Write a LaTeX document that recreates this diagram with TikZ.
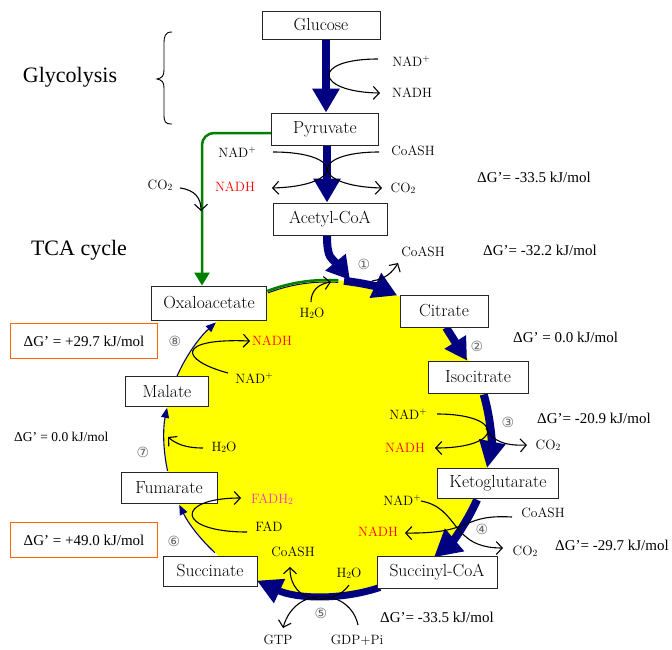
\documentclass[tikz,border=0pt]{standalone}
\usepackage{fontspec}
\usetikzlibrary{arrows.meta}
\newfontfamily\tnr{Liberation Serif}
\newfontfamily\dvs{DejaVu Sans}
\definecolor{navyb}{RGB}{0,0,128}
\definecolor{grn}{RGB}{0,128,0}
\definecolor{orng}{RGB}{255,102,0}
\definecolor{fadc}{RGB}{255,51,204}
\definecolor{nadred}{RGB}{255,0,0}
\definecolor{ylw}{RGB}{255,255,0}
\newcommand\lowsub[1]{\raisebox{-0.2ex}{\fontsize{9.5}{9.5}\selectfont #1}}
\newcommand\plussup{\raisebox{0.85ex}{\fontsize{9.5}{9.5}\selectfont +}}
\pgfdeclarelayer{bg}
\pgfsetlayers{bg,main}
\begin{document}
\begin{tikzpicture}[x=1pt,y=-1pt,
  box/.style={draw=black!85, line width=0.9pt, fill=white, inner sep=0pt, font=\fontsize{17.5}{19}\selectfont},
  lbl/.style={inner sep=0pt, font=\fontsize{13.5}{15}\selectfont},
  dg/.style={inner sep=0pt, font=\tnr\fontsize{15}{17}\selectfont},
  cnum/.style={inner sep=0pt, text=black!60, font=\dvs\fontsize{14}{14}\selectfont},
  rx/.style={line width=1.1pt, -{Straight Barb[length=6pt,width=13pt]}},
  bigarr/.style={draw=navyb, line width=8pt, -{Triangle[length=24pt,width=26pt]}},
  thinarr/.style={draw=navyb, line width=1.1pt, -{Triangle[length=10pt,width=8pt]}},
  orbox/.style={draw=orng, line width=1.8pt, fill=white, inner sep=0pt, minimum width=147pt, minimum height=35pt, font=\tnr\fontsize{15}{17}\selectfont},
  ttl/.style={inner sep=0pt, font=\tnr\fontsize{22}{24}\selectfont}
]
\useasboundingbox (0,0) rectangle (672,649);

% ---------- boxes ----------
\node[box, minimum width=118pt, minimum height=28pt] (glu) at (321,25) {Glucose};
\node[box, minimum width=107pt, minimum height=32pt] (pyr) at (325,129) {Pyruvate};
\node[box, minimum width=114pt, minimum height=32pt] (acc) at (330,219) {Acetyl-CoA};
\node[box, minimum width=115pt, minimum height=34pt] (oxa) at (209,303) {Oxaloacetate};
\node[box, minimum width=88pt, minimum height=32pt] (cit) at (444,311) {Citrate};
\node[box, minimum width=100pt, minimum height=32pt] (iso) at (478,377) {Isocitrate};
\node[box, minimum width=121pt, minimum height=30pt] (keto) at (498,483) {Ketoglutarate};
\node[box, minimum width=120pt, minimum height=32pt] (sca) at (437,572) {Succinyl-CoA};
\node[box, minimum width=94pt, minimum height=30pt] (suc) at (210,571) {Succinate};
\node[box, minimum width=96pt, minimum height=31pt] (fum) at (169,488) {Fumarate};
\node[box, minimum width=83pt, minimum height=30pt] (mal) at (167,391) {Malate};

% ---------- arc points on the cycle ----------
\coordinate (a1t) at (350,280);
\coordinate (a1bs) at ({327+163*cos(84)},{438-158*sin(84)});
\coordinate (a3s) at ({327+163*cos(16)},{438-158*sin(16)});
\coordinate (a4s) at ({327+163*cos(-23)},{438-158*sin(-23)});
\coordinate (a5s) at ({327+163*cos(-71)},{438-158*sin(-71)});
\coordinate (a6s) at ({327+163*cos(226.5)},{438-158*sin(226.5)});
\coordinate (a7s) at ({327+163*cos(192)},{438-158*sin(192)});
\coordinate (a8s) at ({327+163*cos(157)},{438-158*sin(157)});
\coordinate (gas) at ({327+163*cos(111.5)},{438-158*sin(111.5)});
\coordinate (gns) at ({327+161*cos(111.5)},{438-156*sin(111.5)});
\coordinate (gc) at (202,133);

\begin{pgfonlayer}{bg}
\fill[white] (0,0) rectangle (672,649);
\fill[ylw] (327,438) ellipse [x radius=163pt, y radius=158pt];
% thin left arcs
\draw[thinarr] (a6s) arc[start angle=226.5, end angle=205, x radius=163pt, y radius=158pt];
\draw[thinarr] (a7s) arc[start angle=192, end angle=169, x radius=163pt, y radius=158pt];
\draw[thinarr] (a8s) arc[start angle=157, end angle=133, x radius=163pt, y radius=158pt];
% green condensation arc
\draw[navyb, line width=1pt] (gns) arc[start angle=111.5, end angle=86, x radius=161pt, y radius=156pt];
\draw[grn, line width=2.5pt] (gas) arc[start angle=111.5, end angle=86, x radius=163pt, y radius=158pt];
% green pyruvate -> oxaloacetate
\draw[grn, line width=2.5pt, rounded corners=12pt, -{Triangle[length=13pt,width=15pt]}] (pyr.west |- gc) -- (gc) -- (gc |- oxa.north);
% thick arrows
\draw[bigarr] ([xshift=5pt]glu.south) -- ([xshift=1pt]pyr.north);
\draw[bigarr] ([xshift=2pt]pyr.south) -- ([xshift=-3pt]acc.north);
\draw[bigarr, -{Triangle[length=23pt,width=25pt]}] ([xshift=-3pt]acc.south) .. controls +(0,24) and +(-18,-22) .. (a1t);
\draw[bigarr] (a1bs) arc[start angle=84, end angle=64.5, x radius=163pt, y radius=158pt];
\draw[bigarr, -{Triangle[length=22pt,width=24pt]}] ([xshift=2pt]cit.south) -- ([xshift=-11pt]iso.north);
\draw[bigarr, -{Triangle[length=27pt,width=25pt]}] (a3s) arc[start angle=16, end angle=-11, x radius=163pt, y radius=158pt];
\draw[bigarr, -{Triangle[length=27pt,width=28pt]}] (a4s) arc[start angle=-23, end angle=-49, x radius=163pt, y radius=158pt];
\draw[bigarr, line width=7pt, -{Triangle[length=25pt,width=25pt]}] (a5s) arc[start angle=-71, end angle=-115.5, x radius=163pt, y radius=158pt];
\end{pgfonlayer}

% ---------- titles and brace ----------
\node[ttl] (tglyc) at (70,77) {Glycolysis};
\node[ttl] (ttca) at (79,250) {TCA cycle};
\draw[line width=0.9pt] (172,32) .. controls (165,32) and (164,36) .. (164,44) -- (164,70)
  .. controls (164,76) and (162,78) .. (157,79) .. controls (162,80) and (164,82) .. (164,88)
  -- (164,114) .. controls (164,122) and (165,124) .. (172,124);

% ---------- glycolysis side ----------
\node[lbl] (g1) at (411,61) {NAD\plussup};
\node[lbl] (g2) at (412,93) {NADH};
\draw[rx] (378,59) .. controls (310,59) and (315,92) .. (380,93);

% ---------- pyruvate dehydrogenase ----------
\node[lbl] (p1) at (237,152) {NAD\plussup};
\node[lbl, text=nadred] (p2) at (235,187) {NADH};
\node[lbl] (p3) at (413,151) {CoASH};
\node[lbl] (p4) at (403,188) {CO\lowsub{2}};
\node[lbl] (p5) at (160,185) {CO\lowsub{2}};
\draw[rx] (273,152) .. controls (345,152) and (345,186) .. (272,188);
\draw[rx] (379,152) .. controls (310,152) and (310,186) .. (382,188);
\draw[rx] (180,188) .. controls (195,190) and (201,198) .. (201,211);

% ---------- step 1 ----------
\node[lbl] (c1a) at (423,252) {CoASH};
\node[lbl] (c1b) at (312,313) {H\lowsub{2}O};
\draw[rx] (372,281) .. controls (385,279) and (392,273) .. (398,263);
\draw[rx] (311,302) .. controls (311,291) and (318,284) .. (331,282);

% ---------- step 3 ----------
\node[lbl] (c3a) at (408,414) {NAD\plussup};
\node[lbl, text=nadred] (c3b) at (405,448) {NADH};
\node[lbl] (c3c) at (548,445) {CO\lowsub{2}};
\draw[rx] (437,414) .. controls (505,414) and (505,448) .. (435,448);
\draw[rx] (486,428) .. controls (492,441) and (505,446) .. (527,445);

% ---------- step 4 ----------
\node[lbl] (c4a) at (402,500) {NAD\plussup};
\node[lbl, text=nadred] (c4b) at (378,532) {NADH};
\node[lbl] (c4c) at (543,513) {CoASH};
\node[lbl] (c4d) at (525,551) {CO\lowsub{2}};
\draw[rx] (421,501) .. controls (460,508) and (450,548) .. (503,548);
\draw[rx] (512,517) .. controls (460,514) and (475,534) .. (405,533);

% ---------- step 5 ----------
\node[lbl] (c5a) at (293,552) {CoASH};
\node[lbl] (c5b) at (349,573) {H\lowsub{2}O};
\node[lbl] (c5c) at (278,640) {GTP};
\node[lbl] (c5d) at (357,640) {GDP+Pi};
\draw[rx] (349,585) .. controls (335,606) and (290,606) .. (290,567);
\draw[rx] (358,625) .. controls (350,588) and (295,585) .. (283,628);

% ---------- step 6 ----------
\node[lbl, text=fadc] (c6a) at (272,499) {FADH\lowsub{2}};
\node[lbl] (c6b) at (269,527) {FAD};
\draw[rx] (247,532) .. controls (175,532) and (175,498) .. (241,498);

% ---------- step 7 ----------
\node[lbl] (c7a) at (224,447) {H\lowsub{2}O};
\draw[rx] (203,448) .. controls (186,448) and (176,444) .. (168,437);

% ---------- step 8 ----------
\node[lbl, text=nadred] (c8a) at (272,341) {NADH};
\node[lbl] (c8b) at (254,378) {NAD\plussup};
\draw[rx] (228,373) .. controls (180,360) and (175,338) .. (250,341);

% ---------- circled numbers ----------
\node[cnum] (n1) at (364,264) {①};
\node[cnum] (n2) at (477,346) {②};
\node[cnum] (n3) at (508,422) {③};
\node[cnum] (n4) at (482,529) {④};
\node[cnum] (n5) at (321,613) {⑤};
\node[cnum] (n6) at (174,541) {⑥};
\node[cnum] (n7) at (143,452) {⑦};
\node[cnum] (n8) at (175,341) {⑧};

% ---------- free energy labels ----------
\node[dg, anchor=west] (d1) at (477,177) {ΔG’= -33.5 kJ/mol};
\node[dg, anchor=west] (d2) at (483,250) {ΔG’= -32.2 kJ/mol};
\node[dg, anchor=west] (d3) at (513,337) {ΔG’ = 0.0 kJ/mol};
\node[dg, anchor=west] (d4) at (537,418) {ΔG’= -20.9 kJ/mol};
\node[dg, anchor=west] (d5) at (555,545) {ΔG’= -29.7 kJ/mol};
\node[dg, anchor=west] (d6) at (380,617) {ΔG’= -33.5 kJ/mol};
\node[dg, anchor=west, font=\tnr\fontsize{13.5}{15}\selectfont] (d7) at (14,437) {ΔG’ = 0.0 kJ/mol};
\node[orbox] (o1) at (84,341) {ΔG’ = +29.7 kJ/mol};
\node[orbox] (o2) at (84,540) {ΔG’ = +49.0 kJ/mol};
\end{tikzpicture}
\end{document}
